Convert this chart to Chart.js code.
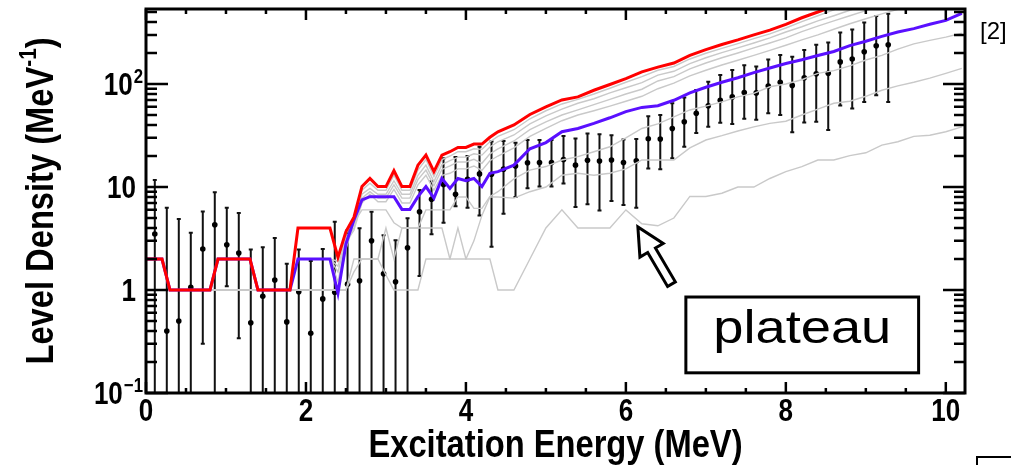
<!DOCTYPE html>
<html>
<head>
<meta charset="utf-8">
<script src="https://cdn.jsdelivr.net/npm/chart.js@4.4.1/dist/chart.umd.min.js"></script>
<style>
  html, body { margin: 0; padding: 0; background: #fff; }
  #wrap { width: 1011px; height: 465px; }
</style>
</head>
<body>
<div id="wrap"><canvas id="chart" width="1011" height="465"></canvas></div>
<script>
// energy grid (MeV) shared by all model curves
const energyGrid = [
  0.0, 0.1, 0.2, 0.3, 0.4, 0.5, 0.6, 0.7, 0.8, 0.9,
  1.0, 1.1, 1.2, 1.3, 1.4, 1.5, 1.6, 1.7, 1.8, 1.9,
  2.0, 2.1, 2.2, 2.3, 2.4, 2.5, 2.6, 2.7, 2.8, 2.9,
  3.0, 3.1, 3.2, 3.3, 3.4, 3.5, 3.6, 3.7, 3.8, 3.9,
  4.0, 4.1, 4.2, 4.3, 4.4,
  4.6, 4.8, 5.0, 5.2, 5.4, 5.6, 5.8, 6.0, 6.2, 6.4,
  6.6, 6.8, 7.0, 7.2, 7.4, 7.6, 7.8, 8.0, 8.2, 8.4,
  8.6, 8.8, 9.0, 9.2, 9.4, 9.6, 9.8, 10.0, 10.2
];

const redCurve = [
  2, 2, 2, 1, 1, 1, 1, 1, 1, 2,
  2, 2, 2, 2, 1, 1, 1, 1, 1, 4,
  4, 4, 4, 4, 2.07, 3.7, 5.1, 10.1, 12.1, 10.1,
  10.1, 14.4, 10.1, 10.1, 16.3, 20.4, 14.1, 20.4, 22, 24.2,
  24.2, 26.1, 26.1, 30.4, 34.4,
  40, 50.6, 60, 70, 75, 87, 99, 113, 131, 146,
  160, 190, 216, 242, 268, 300, 334, 380, 440, 500,
  570, null, null, null, null, null, null, null, null
];

const blueCurve = [
  2, 2, 2, 1, 1, 1, 1, 1, 1, 2,
  2, 2, 2, 2, 1, 1, 1, 1, 1, 2,
  2, 2, 2, 2, 0.93, 2.8, 4.8, 7.5, 8.06, 8.06,
  8.06, 8.06, 6.06, 6.06, 8.06, 10.1, 7.8, 12.1, 9.7, 12.1,
  11.5, 12.1, 10.1, 13.6, 14.1,
  16.3, 23.5, 27, 34.4, 37, 41.5, 47, 54, 59.3, 61.5,
  69.5, 82, 93, 104, 115, 129, 143, 158, 172, 189,
  207, 236, 260, 290, 320, 345, 380, 415, 485
];

// grey model variants, top to bottom
const greyA = [
  2, 2, 2, 1, 1, 1, 1, 1, 1, 2,
  2, 2, 2, 2, 1, 1, 1, 1, 1, 2,
  2, 2, 2, 2, 1.9, 3.5, 4.8, 9.3, 10.9, 9.3,
  9.3, 13, 9.3, 9.3, 14.6, 18.5, 12.6, 18.5, 20, 22,
  22, 23.5, 23.2, 27.5, 31,
  36, 46, 55, 64, 71, 80, 91, 104, 118, 136,
  148, 175, 199, 222, 247, 276, 307, 350, 404, 460,
  525, 600, null, null, null, null, null, null, null
];
const greyB = [
  2, 2, 2, 1, 1, 1, 1, 1, 1, 2,
  2, 2, 2, 2, 1, 1, 1, 1, 1, 2,
  2, 2, 2, 2, 1.7, 3.2, 4.4, 8.5, 9.7, 8.5,
  8.5, 11.5, 8.5, 8.5, 13, 16.3, 11.3, 16.5, 18, 19.5,
  19.5, 21, 20.4, 24.5, 27.5,
  32, 41, 49, 57, 65, 72, 82, 92, 103, 122,
  133, 158, 180, 202, 224, 250, 280, 320, 360, 410,
  460, 520, 590, null, null, null, null, null, null
];
const greyC = [
  2, 2, 2, 1, 1, 1, 1, 1, 1, 2,
  2, 2, 2, 2, 1, 1, 1, 1, 1, 2,
  2, 2, 2, 2, 1.5, 3.0, 4.0, 7.8, 9.0, 7.8,
  7.8, 10.5, 7.8, 7.8, 11.8, 14.6, 10.3, 14.8, 16, 17.5,
  17.5, 18.6, 17, 21, 23.5,
  28, 36, 43, 50, 56, 63, 71, 80, 89, 107,
  118, 140, 160, 180, 200, 224, 250, 280, 322, 365,
  410, 460, 515, 580, null, null, null, null, null
];
const greyD = [
  2, 2, 2, 1, 1, 1, 1, 1, 1, 2,
  2, 2, 2, 2, 1, 1, 1, 1, 1, 2,
  2, 2, 2, 2, 1.2, 2.9, 3.8, 7, 8.5, 7.2,
  7.2, 9.5, 7, 7, 10.5, 13, 9.3, 13, 13.6, 15,
  15, 16, 14.5, 18, 20,
  24, 31, 37, 44, 50, 55, 61, 68, 76, 90,
  102, 120, 136, 153, 170, 190, 212, 238, 268, 300,
  340, 385, 430, 480, 530, 590, null, null, null
];
const greyE = [
  2, 2, 2, 1, 1, 1, 1, 1, 1, 1,
  1, 1, 1, 1, 1, 1, 1, 1, 1, 1,
  1, 1, 1, 1, 1, 2.5, 4.5, 6, 6, 6,
  6, 4.5, 4, 4, 4, 6, 6, 6, 6, 8,
  8, 6.2, 6.2, 8.1, 9,
  12, 14.6, 15.8, 18.3, 19.7, 22, 24.6, 30, 37, 41,
  48, 56, 61, 67, 75, 81, 94, 100, 110, 127,
  135, 150, 171, 190, 218, 245, 265, 285, 311
];
const greyF = [
  2, 2, 2, 1, 1, 1, 1, 1, 1, 1,
  1, 1, 1, 1, 1, 1, 1, 1, 1, 1,
  1, 1, 1, 1, 1, 1, 1.5, 2, 2, 2,
  4, 2, 4, 4, 4, 4, 4, 4, 2, 2,
  2, 3, 5.3, 8, 8,
  7.8, 9, 10, 13, 13.6, 13, 13.6, 15, 18.3, 18.3,
  18.3, 24, 28.6, 31.5, 35, 38.4, 41.5, 43.5, 50, 57,
  65, 68, 76, 87, 96, 104, 114, 127, 142
];
const greyG = [
  2, 2, 2, 1, 1, 1, 1, 1, 1, 1,
  1, 1, 1, 1, 1, 1, 1, 1, 1, 1,
  1, 1, 1, 1, 1, 1, 2, 2, 2, 2,
  1.4, 1, 1, 1, 1, 2, 2, 2, 2, 4,
  2, 2, 2, 2, 1,
  1, 2, 4, 6, 4, 4, 4, 6, 4.4, 4.2,
  5, 8.1, 8.1, 8.7, 10, 10, 12.1, 14.1, 15.8, 18.3,
  18.3, 20.2, 21.5, 25.5, 27.5, 31, 31.8, 34.4, 38.4
];

// measured level density with error bars
const pointEnergy = [
  0.11, 0.26, 0.41, 0.56, 0.71, 0.86, 1.01, 1.16, 1.31, 1.46,
  1.61, 1.76, 1.91, 2.06, 2.21, 2.36, 2.52, 2.67, 2.82, 2.97,
  3.12, 3.27, 3.42, 3.57, 3.72, 3.87, 4.02, 4.17, 4.32, 4.47,
  4.62, 4.77, 4.92, 5.07, 5.22, 5.37, 5.52, 5.67, 5.82, 5.97,
  6.13, 6.28, 6.43, 6.58, 6.73, 6.88, 7.03, 7.18, 7.33, 7.48,
  7.63, 7.78, 7.93, 8.08, 8.23, 8.38, 8.53, 8.68, 8.83, 8.98,
  9.13, 9.28
];
const pointDensity = [
  3.5, 0.40, 0.50, 1.06, 2.5, 4.3, 2.75, 2.29, 0.48, 0.87,
  1.25, 0.49, 0.96, 0.38, 0.82, 0.95, 1.14, 1.23, 3.0, 1.44,
  1.2, 2.57, 5.76, 7.6, 10.6, 8.5, 11.9, 13.4, 13.3, 14.9,
  16, 17.2, 17.3, 17.3, 18.5, 16.3, 18.2, 17.9, 18.3, 17.3,
  18, 29.4, 29.2, 37, 43, 52, 61.4, 69.6, 75, 82.6,
  82, 95.5, 104, 97, 115, 126, 127, 164, 175, 206,
  235, 240
];
const errUpper = [
  11.7, 6.3, 4.9, 3.6, 5.8, 8.9, 6.3, 5.6, 2.48, 2.6,
  3.2, 1.8, 2.48, 1.91, 2.5, 4.6, 3.8, 3.97, 5.75, 3.4,
  3.05, 4.97, 9.35, 11.4, 19, 19.6, 20, 24.6, 27.6, 28,
  26.9, 28.6, 28.6, 28.6, 31.3, 29.6, 33, 32.6, 31.8, 29,
  29.2, 48.7, 49.9, 65, 74, 87.7, 105, 122, 137, 152,
  148, 173, 191, 184, 214, 240, 253, 316, 339, 395,
  458, 480
];
// 0.01 = bar runs off the bottom of the frame
const errLower = [
  0.01, 0.01, 0.01, 0.01, 0.30, 0.01, 1.09, 0.34, 0.01, 0.01,
  0.01, 0.01, 0.01, 0.01, 0.01, 0.01, 0.01, 0.01, 0.01, 0.01,
  0.01, 0.01, 1.37, 3.47, 4.5, 6.5, 6.3, 5.3, 2.63, 5.5,
  8.0, 9.7, 10.1, 10.1, 10.8, 6.4, 6.8, 5.9, 7.3, 6.7,
  6.3, 15.1, 14.9, 19, 24.6, 33.5, 38.5, 42, 41, 46,
  45, 52, 50, 34, 42.4, 43, 35.8, 62, 58, 67,
  78, 67
];

const xTickValues = [0, 2, 4, 6, 8, 10];
const xTickLabels = ["0", "2", "4", "6", "8", "10"];
const yTickValues = [0.1, 1, 10, 100];
const yTickBase = ["10", "1", "10", "10"];
const yTickExp = ["\u22121", "", "", "2"];

const SANS = '"Liberation Sans", Arial, Helvetica, sans-serif';
const SQUEEZE = 0.84; // axis text in the source is a condensed bold face

const toXY = (xs, ys) => xs.map((v, i) => ({ x: v, y: ys[i] }));

const greyLine = (vals) => ({
  data: toXY(energyGrid, vals),
  borderColor: "#c9c9c9",
  borderWidth: 1.4,
  pointRadius: 0,
  fill: false,
  order: 5,
});

// draw text squeezed horizontally, returns nothing
const squeezed = (ctx, text, x, y, font, align, sx) => {
  ctx.save();
  ctx.translate(x, y);
  ctx.scale(sx, 1);
  ctx.font = font;
  ctx.textAlign = align;
  ctx.textBaseline = "alphabetic";
  ctx.fillText(text, 0, 0);
  ctx.restore();
};
const widthOf = (ctx, text, font, sx) => {
  ctx.font = font;
  return ctx.measureText(text).width * sx;
};

const decorations = {
  id: "decorations",
  beforeDatasetsDraw(chart) {
    const { ctx, chartArea: a, scales: { x, y } } = chart;
    ctx.save();
    ctx.beginPath();
    ctx.rect(a.left, a.top, a.right - a.left, a.bottom - a.top);
    ctx.clip();
    ctx.strokeStyle = "#111";
    ctx.lineWidth = 2;
    pointEnergy.forEach((e, i) => {
      const px = x.getPixelForValue(e);
      const top = y.getPixelForValue(errUpper[i]);
      const bot = y.getPixelForValue(errLower[i]);
      ctx.beginPath();
      ctx.moveTo(px, top);
      ctx.lineTo(px, bot);
      ctx.moveTo(px - 2, top);
      ctx.lineTo(px + 2, top);
      ctx.moveTo(px - 2, bot);
      ctx.lineTo(px + 2, bot);
      ctx.stroke();
    });
    ctx.restore();
  },
  afterDraw(chart) {
    const { ctx, chartArea: a, scales: { x, y } } = chart;
    ctx.save();
    ctx.strokeStyle = "#000";
    ctx.fillStyle = "#000";

    // inward ticks on all four sides
    ctx.lineWidth = 2.5;
    ctx.beginPath();
    for (let i = 0; i <= 20; i++) {
      const v = i * 0.5;
      if (v > x.max) break;
      const px = x.getPixelForValue(v);
      const len = i % 4 === 0 ? 11 : 5;
      ctx.moveTo(px, a.bottom);
      ctx.lineTo(px, a.bottom - len);
      ctx.moveTo(px, a.top);
      ctx.lineTo(px, a.top + len);
    }
    yTickValues.forEach((d) => {
      for (let m = 1; m <= 9; m++) {
        const v = m * d;
        if (v > y.max) break;
        const py = y.getPixelForValue(v);
        const len = m === 1 ? 22 : 11;
        ctx.moveTo(a.left, py);
        ctx.lineTo(a.left + len, py);
        ctx.moveTo(a.right, py);
        ctx.lineTo(a.right - len, py);
      }
    });
    ctx.stroke();

    // frame
    ctx.lineWidth = 3;
    ctx.strokeRect(a.left, a.top, a.right - a.left, a.bottom - a.top);

    const tickFont = "bold 31px " + SANS;
    const expFont = "bold 20px " + SANS;

    // x tick labels
    xTickValues.forEach((v, i) => {
      squeezed(ctx, xTickLabels[i], x.getPixelForValue(v), a.bottom + 28, tickFont, "center", SQUEEZE);
    });

    // y tick labels with exponents
    yTickValues.forEach((v, i) => {
      const py = y.getPixelForValue(v);
      const exp = yTickExp[i];
      if (exp) {
        const ew = widthOf(ctx, exp, expFont, SQUEEZE);
        squeezed(ctx, exp, 143 - ew, py - 1, expFont, "left", SQUEEZE);
        squeezed(ctx, yTickBase[i], 142 - ew, py + 11, tickFont, "right", SQUEEZE);
      } else {
        squeezed(ctx, yTickBase[i], 136, py + 11, tickFont, "right", SQUEEZE);
      }
    });

    // axis titles
    const titleFont = "bold 38px " + SANS;
    squeezed(ctx, "Excitation Energy (MeV)", (a.left + a.right) / 2, 457, titleFont, "center", 0.86);

    ctx.save();
    ctx.translate(53, (a.top + a.bottom) / 2);
    ctx.rotate(-Math.PI / 2);
    const supFont = "bold 24px " + SANS;
    const w1 = widthOf(ctx, "Level Density (MeV", titleFont, 0.86);
    const w2 = widthOf(ctx, "-1", supFont, 0.86);
    const w3 = widthOf(ctx, ")", titleFont, 0.86);
    const sx0 = -(w1 + w2 + w3) / 2;
    squeezed(ctx, "Level Density (MeV", sx0, 0, titleFont, "left", 0.86);
    squeezed(ctx, "-1", sx0 + w1, -17, supFont, "left", 0.86);
    squeezed(ctx, ")", sx0 + w1 + w2, 0, titleFont, "left", 0.86);
    ctx.restore();

    // reference tag
    ctx.font = "24px " + SANS;
    ctx.textAlign = "left";
    ctx.textBaseline = "alphabetic";
    ctx.fillText("[2]", 980, 39);

    // hollow arrow pointing at the plateau
    const tip = { x: x.getPixelForValue(6.15), y: y.getPixelForValue(4.09) };
    const tail = { x: x.getPixelForValue(6.57), y: y.getPixelForValue(1.14) };
    const dx = tail.x - tip.x, dy = tail.y - tip.y;
    const L = Math.hypot(dx, dy);
    const ux = dx / L, uy = dy / L, nx = -uy, ny = ux;
    const headLen = 27, headHalf = 13.5, shaftHalf = 4.5;
    const bx = tip.x + ux * headLen, by = tip.y + uy * headLen;
    ctx.beginPath();
    ctx.moveTo(tip.x, tip.y);
    ctx.lineTo(bx + nx * headHalf, by + ny * headHalf);
    ctx.lineTo(bx + nx * shaftHalf, by + ny * shaftHalf);
    ctx.lineTo(tail.x + nx * shaftHalf, tail.y + ny * shaftHalf);
    ctx.lineTo(tail.x - nx * shaftHalf, tail.y - ny * shaftHalf);
    ctx.lineTo(bx - nx * shaftHalf, by - ny * shaftHalf);
    ctx.lineTo(bx - nx * headHalf, by - ny * headHalf);
    ctx.closePath();
    ctx.fillStyle = "#fff";
    ctx.fill();
    ctx.lineWidth = 3;
    ctx.lineJoin = "miter";
    ctx.stroke();

    // "plateau" label box
    const bl = x.getPixelForValue(6.75), br = x.getPixelForValue(9.66);
    const bt = y.getPixelForValue(0.855), bb = y.getPixelForValue(0.157);
    ctx.fillStyle = "#fff";
    ctx.fillRect(bl, bt, br - bl, bb - bt);
    ctx.lineWidth = 3;
    ctx.strokeRect(bl, bt, br - bl, bb - bt);
    ctx.fillStyle = "#000";
    squeezed(ctx, "plateau", (bl + br) / 2, bt + 46, "46px " + SANS, "center", 1.18);

    // corner of a neighbouring box, cut off at the edge
    ctx.lineWidth = 2;
    ctx.beginPath();
    ctx.moveTo(977, 466);
    ctx.lineTo(977, 457);
    ctx.lineTo(1012, 457);
    ctx.stroke();

    ctx.restore();
  },
};

const ctx = document.getElementById("chart").getContext("2d");
const chart = new Chart(ctx, {
  type: "line",
  data: {
    datasets: [
      greyLine(greyA),
      greyLine(greyB),
      greyLine(greyC),
      greyLine(greyD),
      greyLine(greyE),
      greyLine(greyF),
      greyLine(greyG),
      {
        data: toXY(energyGrid, blueCurve),
        borderColor: "#5a10ff",
        borderWidth: 3,
        pointRadius: 0,
        order: 2,
      },
      {
        data: toXY(energyGrid, redCurve),
        borderColor: "#ff0000",
        borderWidth: 3,
        pointRadius: 0,
        order: 1,
      },
      {
        data: toXY(pointEnergy, pointDensity),
        showLine: false,
        pointRadius: 2.8,
        pointBackgroundColor: "#000",
        pointBorderWidth: 0,
        order: 10,
      },
    ],
  },
  options: {
    responsive: false,
    animation: false,
    devicePixelRatio: 1,
    layout: { padding: { top: 9, right: 46, left: 0, bottom: 0 } },
    plugins: {
      legend: { display: false },
      tooltip: { enabled: false },
    },
    scales: {
      x: {
        type: "linear",
        min: 0,
        max: 10.24,
        grid: { display: false, drawTicks: false },
        border: { display: false },
        afterBuildTicks: (s) => {
          s.ticks = xTickValues.map((v) => ({ value: v }));
        },
        afterFit: (s) => {
          s.height = 72;
        },
        ticks: { display: false },
      },
      y: {
        type: "logarithmic",
        min: 0.1,
        max: 535,
        grid: { display: false, drawTicks: false },
        border: { display: false },
        afterBuildTicks: (s) => {
          s.ticks = yTickValues.map((v) => ({ value: v }));
        },
        afterFit: (s) => {
          s.width = 146;
        },
        ticks: { display: false },
      },
    },
  },
  plugins: [decorations],
});
</script>
</body>
</html>
